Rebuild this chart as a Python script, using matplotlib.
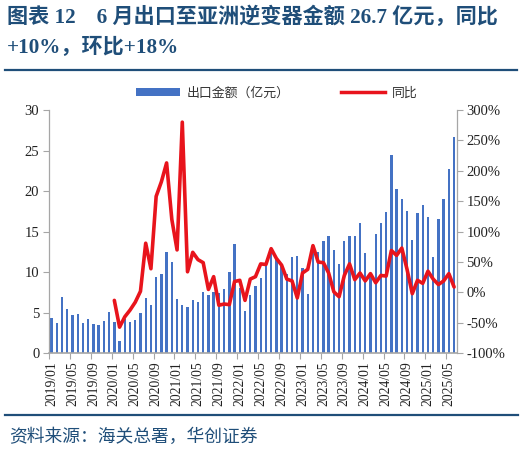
import matplotlib
matplotlib.use("Agg")
import matplotlib.pyplot as plt
from matplotlib.ticker import FixedLocator, FuncFormatter
from matplotlib.lines import Line2D
from matplotlib.patches import Patch
import numpy as np

plt.rcParams['font.family'] = ['Liberation Serif', 'Noto Sans CJK SC', 'DejaVu Sans']

title_line1 = "图表 12    6 月出口至亚洲逆变器金额 26.7 亿元，同比"
title_line2 = "+10%，环比+18%"
source_text = "资料来源：海关总署，华创证券"
legend_bar = "出口金额（亿元）"
legend_line = "同比"

tick_labels = ["2019/01", "2019/05", "2019/09", "2020/01", "2020/05", "2020/09",
               "2021/01", "2021/05", "2021/09", "2022/01", "2022/05", "2022/09",
               "2023/01", "2023/05", "2023/09", "2024/01", "2024/05", "2024/09",
               "2025/01", "2025/05"]

# monthly export amount, 2019/01 - 2025/06 (亿元)
amount_2019 = [4.4, 3.75, 7.0, 5.45, 4.7, 4.8, 3.75, 4.25, 3.65, 3.45, 3.95, 5.1]
amount_2020 = [3.85, 1.55, 4.2, 3.9, 4.1, 5.0, 6.85, 6.0, 9.45, 9.8, 12.55, 11.3]
amount_2021 = [6.7, 6.0, 5.75, 6.6, 6.3, 7.5, 7.2, 7.5, 7.45, 7.95, 10.0, 13.45]
amount_2022 = [8.0, 5.2, 7.15, 8.35, 9.25, 11.0, 12.5, 11.7, 10.8, 9.8, 11.9, 12.05]
amount_2023 = [10.5, 7.3, 12.75, 12.5, 13.85, 14.5, 12.7, 11.0, 13.9, 14.5, 14.5, 16.05]
amount_2024 = [12.4, 9.75, 14.7, 16.05, 17.4, 24.4, 20.25, 19.0, 17.6, 14.0, 17.3, 18.3]
amount_2025 = [16.8, 11.9, 16.5, 19.0, 22.7, 26.7]

# YoY (%), 2020/01 - 2025/06
yoy_2020 = [-13, -57, -40, -29, -16, 2, 81, 39, 158, 182, 213, 120]
yoy_2021 = [70, 280, 34, 66, 54, 49, 5, 26, -21, -19, -20, 18]
yoy_2022 = [20, -13, 22, 26, 47, 46, 72, 56, 45, 22, 19, -9]
yoy_2023 = [32, 38, 77, 50, 49, 32, 1, -7, 28, 47, 21, 32]
yoy_2024 = [19, 31, 16, 28, 27, 69, 61, 73, 38, -2, 20, 15]
yoy_2025 = [35, 22, 13, 19, 31, 9]

amount = amount_2019 + amount_2020 + amount_2021 + amount_2022 + amount_2023 + amount_2024 + amount_2025
yoy = yoy_2020 + yoy_2021 + yoy_2022 + yoy_2023 + yoy_2024 + yoy_2025

n = len(amount)
x = np.arange(n)
x_yoy = x[n - len(yoy):]

W, H = 524, 450
fig = plt.figure(figsize=(W / 100, H / 100), dpi=100)

L, R, T, B = 49, 456.7, 110, 353.3
ax = fig.add_axes([L / W, 1 - B / H, (R - L) / W, (B - T) / H])
ax2 = ax.twinx()

bar_color = '#4472C4'
line_color = '#E8141C'
title_color = '#1F4E79'
axis_gray = '#A6A6A6'

ax.bar(x, amount, width=0.45, color=bar_color, zorder=2)
ax2.plot(x_yoy, yoy, color=line_color, lw=2.6, solid_joinstyle='round', solid_capstyle='round', zorder=3)

ax.set_zorder(1)
ax2.set_zorder(2)
ax.patch.set_visible(False)

ax.set_xlim(-0.5, n - 0.5)
ax.set_ylim(0, 30)
ax2.set_ylim(-100, 300)
ax.set_yticks(np.arange(0, 31, 5))
ax2.set_yticks(np.arange(-100, 301, 50))
ax2.yaxis.set_major_formatter(FuncFormatter(lambda v, p: f"{int(v)}%"))

label_pos = np.arange(0, n, 4)
ax.set_xticks(label_pos)
ax.set_xticklabels(tick_labels, rotation=90, fontsize=9.8)
ax.xaxis.set_minor_locator(FixedLocator(label_pos - 0.5))
ax.tick_params(axis='x', which='major', length=0, pad=6)
ax.tick_params(axis='x', which='minor', length=4, width=0.8, color=axis_gray, direction='out')
ax.tick_params(axis='y', length=4, width=0.8, color=axis_gray, labelsize=10.5, pad=3)
ax2.tick_params(axis='y', length=4, width=0.8, color=axis_gray, labelsize=10.5, pad=3)

for a in (ax, ax2):
    a.spines['top'].set_visible(False)
    for s in ('left', 'right', 'bottom'):
        a.spines[s].set_color(axis_gray)
        a.spines[s].set_linewidth(0.9)
ax.spines['right'].set_visible(False)
ax2.spines['left'].set_visible(False)
ax2.spines['bottom'].set_visible(False)
ax.spines['bottom'].set_linewidth(1.2)

for lab in ax.get_xticklabels() + ax.get_yticklabels() + ax2.get_yticklabels():
    lab.set_color('#222222')

handles = [Patch(facecolor=bar_color, edgecolor='none'),
           Line2D([0], [0], color=line_color, lw=2.5)]
leg = fig.legend(handles, [legend_bar, legend_line], loc='center',
                 bbox_to_anchor=(277 / W, 1 - 93 / H), ncol=2, frameon=False,
                 prop={'family': ['Noto Sans CJK SC'], 'size': 9.3},
                 handlelength=3.4, handleheight=0.55, columnspacing=4.0, handletextpad=0.5)
for t in leg.get_texts():
    t.set_color('#333333')

title_font = dict(family=['Liberation Serif', 'Noto Sans CJK SC'], weight='bold', size=15.2, color=title_color)
fig.text(7 / W, 1 - 17 / H, title_line1, va='center', ha='left', **title_font)
fig.text(7 / W, 1 - 48 / H, title_line2, va='center', ha='left', **title_font)

fig.add_artist(Line2D([5 / W, 517 / W], [1 - 69.5 / H, 1 - 69.5 / H], color=title_color, lw=1.6))
fig.add_artist(Line2D([5 / W, 518 / W], [1 - 415 / H, 1 - 415 / H], color=title_color, lw=1.6))

fig.text(9 / W, 1 - 437 / H, source_text, va='center', ha='left',
         family=['Noto Sans CJK SC'], size=12.8, color=title_color, style='italic')

fig.savefig('out.png', dpi=100)
